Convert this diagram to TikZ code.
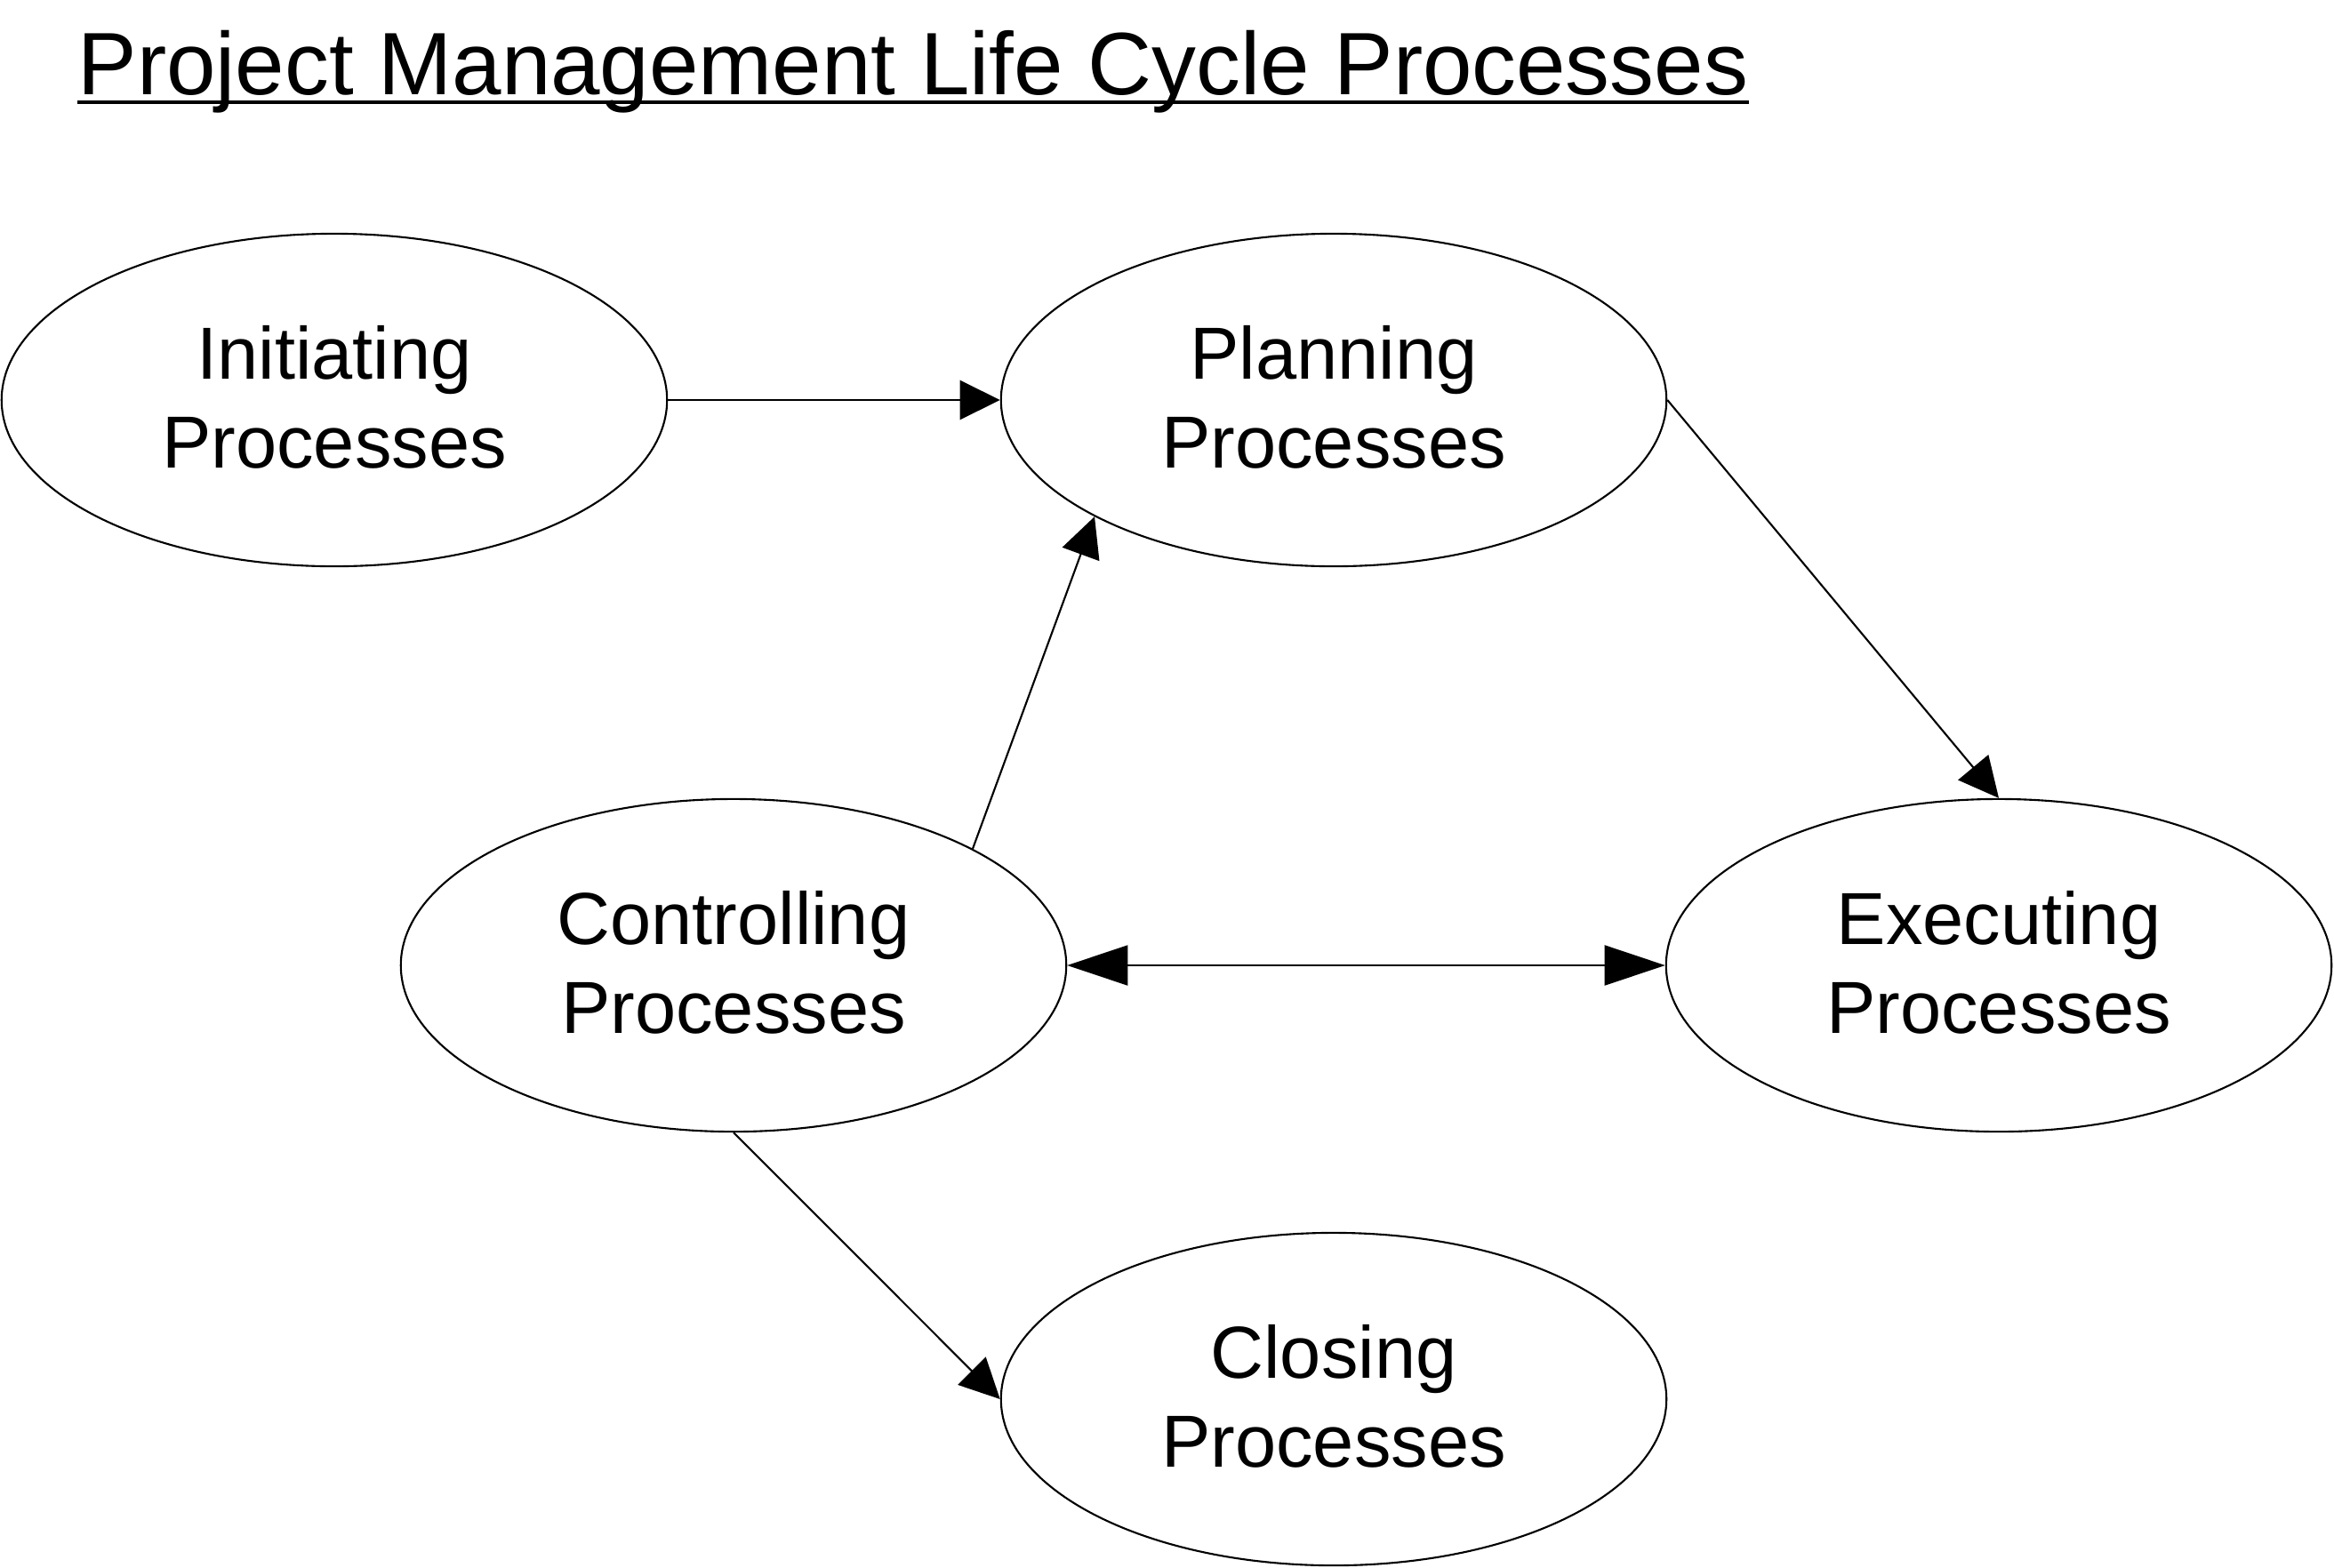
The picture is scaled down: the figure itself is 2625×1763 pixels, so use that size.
\documentclass[tikz,border=0pt]{standalone}
\usepackage{fontspec}
\setmainfont{Liberation Sans}
\usetikzlibrary{shapes.geometric,arrows.meta}
\newcommand{\lowstrut}{\rule[-0.07cm]{0pt}{0.07cm}}
\begin{document}
\begin{tikzpicture}[x=0.01cm,y=-0.01cm,
  proc/.style={ellipse,draw,line width=0.6pt,minimum width=7.48cm,minimum height=3.74cm,inner sep=0pt,align=center,font=\fontsize{23.6}{28.45}\selectfont},
  conn/.style={line width=0.6pt,-{Triangle[length=0.45cm,width=0.44cm]}},
  bigtip/.style={line width=0.6pt,{Triangle[length=0.68cm,width=0.45cm]}-{Triangle[length=0.68cm,width=0.45cm]}}]
\useasboundingbox (0,0) rectangle (2625,1763);
\node[anchor=base west,inner sep=0pt,font=\fontsize{28.35}{34}\selectfont] (title) at (87,106) {Project Management Life Cycle Processes};
\draw[line width=1.3pt] ([yshift=-0.09cm]title.base west) -- ([yshift=-0.09cm]title.base east);
\node[proc] (init) at (376,450) {Initiating\\Processes\lowstrut};
\node[proc] (plan) at (1500,450) {Planning\\Processes\lowstrut};
\node[proc] (ctrl) at (825,1086) {Controlling\\Processes\lowstrut};
\node[proc] (exec) at (2248,1086) {Executing\\Processes\lowstrut};
\node[proc] (close) at (1500,1574) {Closing\\Processes\lowstrut};
\draw[conn] (init.east) -- (plan.west);
\draw[conn] (ctrl.26.6) -- (plan.206.6);
\draw[conn] (plan.east) -- (exec.north);
\draw[bigtip] (ctrl.east) -- (exec.west);
\draw[conn] (ctrl.south) -- (close.west);
\end{tikzpicture}
\end{document}
